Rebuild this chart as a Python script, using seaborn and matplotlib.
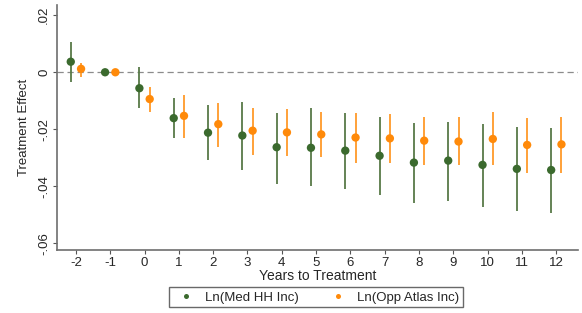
import numpy as np
import pandas as pd
import matplotlib
matplotlib.use('Agg')
import matplotlib.pyplot as plt
import seaborn as sns

# event time
years = [-2, -1, 0, 1, 2, 3, 4, 5, 6, 7, 8, 9, 10, 11, 12]

# Ln(Med HH Inc): point estimate and 95% CI
med_est = [0.0037, 0.0, -0.0056, -0.0161, -0.0212, -0.0222, -0.0263, -0.0265, -0.0275,
           -0.0293, -0.0317, -0.0310, -0.0325, -0.0339, -0.0343]
med_lo = [-0.0033, 0.0, -0.0126, -0.0232, -0.0308, -0.0343, -0.0392, -0.0399, -0.0410,
          -0.0430, -0.0458, -0.0452, -0.0472, -0.0486, -0.0494]
med_hi = [0.0107, 0.0, 0.0020, -0.0089, -0.0115, -0.0103, -0.0144, -0.0126, -0.0144,
          -0.0156, -0.0179, -0.0173, -0.0181, -0.0191, -0.0196]

# Ln(Opp Atlas Inc): point estimate and 95% CI
opp_est = [0.0012, 0.0, -0.0094, -0.0153, -0.0182, -0.0205, -0.0211, -0.0218, -0.0229,
           -0.0232, -0.0240, -0.0243, -0.0234, -0.0255, -0.0253]
opp_lo = [-0.0015, 0.0, -0.0138, -0.0232, -0.0261, -0.0290, -0.0294, -0.0298, -0.0319,
          -0.0319, -0.0325, -0.0325, -0.0325, -0.0352, -0.0352]
opp_hi = [0.0034, 0.0, -0.0050, -0.0080, -0.0107, -0.0126, -0.0130, -0.0140, -0.0144,
          -0.0146, -0.0156, -0.0158, -0.0138, -0.0161, -0.0156]

series = ['Ln(Med HH Inc)', 'Ln(Opp Atlas Inc)']
colors = {'Ln(Med HH Inc)': '#3b6a2e', 'Ln(Opp Atlas Inc)': '#ff8a0a'}
ci_colors = {'Ln(Med HH Inc)': '#587a48', 'Ln(Opp Atlas Inc)': '#ff9a2a'}
offsets = {'Ln(Med HH Inc)': -0.15, 'Ln(Opp Atlas Inc)': 0.15}

df = pd.concat([
    pd.DataFrame({'year': years, 'est': med_est, 'lo': med_lo, 'hi': med_hi, 'series': series[0]}),
    pd.DataFrame({'year': years, 'est': opp_est, 'lo': opp_lo, 'hi': opp_hi, 'series': series[1]}),
])
df['x'] = df['year'] + df['series'].map(offsets)

sns.set_style('white')
plt.rcParams['font.family'] = ['Liberation Sans', 'DejaVu Sans']

fig = plt.figure(figsize=(5.82, 3.13), dpi=100)
ax = fig.add_axes([0.098, 0.201, 0.895, 0.783])

ax.axhline(0, color='#8c8c8c', lw=0.9, ls=(0, (5, 3)), zorder=1)

for s in series:
    d = df[df['series'] == s]
    ax.vlines(d['x'], d['lo'], d['hi'], color=ci_colors[s], lw=1.3, zorder=2)

sns.scatterplot(data=df, x='x', y='est', hue='series', palette=colors,
                s=36, edgecolor='none', ax=ax, zorder=3)

ax.set_xlim(-2.55, 12.63)
ax.set_ylim(-0.0624, 0.0236)
ax.set_xticks(years)
ax.set_xticklabels([str(y) for y in years])
ax.set_yticks([0.02, 0, -0.02, -0.04, -0.06])
ax.set_yticklabels(['.02', '0', '-.02', '-.04', '-.06'], rotation=90, va='center')
ax.tick_params(axis='both', labelsize=9.5, length=3, color='#555555', direction='out',
               bottom=True, left=True, pad=2)
ax.set_xlabel('Years to Treatment', fontsize=10, labelpad=0)
ax.set_ylabel('Treatment Effect', fontsize=9.5, labelpad=6)

for side in ['top', 'right']:
    ax.spines[side].set_visible(False)
for side in ['left', 'bottom']:
    ax.spines[side].set_color('#6e6e6e')
    ax.spines[side].set_linewidth(1.2)

ax.legend(title=None, ncol=2, loc='upper center', bbox_to_anchor=(0.497, -0.125),
          frameon=True, fancybox=False, edgecolor='#444444', fontsize=9.5,
          markerscale=0.6, handletextpad=0.4, columnspacing=2.0, borderpad=0.3)

fig.savefig('out.png', dpi=100, facecolor='white')
